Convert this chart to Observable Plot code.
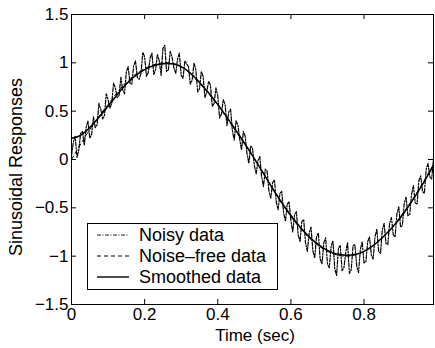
<!DOCTYPE html>
<html>
<head>
<meta charset="utf-8">
<script src="https://cdn.jsdelivr.net/npm/d3@7"></script>
<script src="https://cdn.jsdelivr.net/npm/@observablehq/plot@0.6"></script>
<style>
  html, body { margin: 0; padding: 0; background: #fff; }
  svg { display: block; }
</style>
</head>
<body>
<div id="chart"></div>
<script>
// ---- data ----
const sampleStep = 0.01; // noisy samples at t = 0, 0.01, … 0.99
const noisyValues = [
  0.04, 0.24, 0.10, 0.29, 0.33, 0.22, 0.44, 0.36, 0.52, 0.45,
  0.62, 0.58, 0.74, 0.66, 0.72, 0.91, 0.79, 0.97, 0.85, 0.89,
  1.06, 0.90, 1.10, 0.93, 1.02, 1.15, 0.91, 1.12, 0.95, 1.04,
  0.87, 1.02, 0.96, 0.82, 0.93, 0.73, 0.86, 0.70, 0.77, 0.58,
  0.66, 0.47, 0.57, 0.49, 0.30, 0.40, 0.21, 0.29, 0.06, 0.14,
  -0.06, -0.01, -0.18, -0.10, -0.33, -0.24, -0.44, -0.35, -0.55, -0.46,
  -0.63, -0.57, -0.78, -0.64, -0.86, -0.76, -0.94, -0.80, -1.03, -0.86,
  -1.08, -0.90, -1.13, -0.92, -1.15, -0.96, -1.18, -0.89, -1.10, -0.93,
  -1.07, -0.85, -0.99, -0.80, -0.95, -0.73, -0.87, -0.66, -0.78, -0.56,
  -0.70, -0.45, -0.58, -0.36, -0.45, -0.22, -0.33, -0.10, -0.18, 0.00
];
// noisy samples half-way between (t = 0.005, 0.015, … 0.985)
const noisyMidValues = [
  0.18, 0.02, 0.27, 0.15, 0.40, 0.26, 0.33, 0.58, 0.42, 0.68,
  0.53, 0.79, 0.64, 0.85, 0.68, 0.96, 0.78, 1.02, 0.83, 1.11,
  0.86, 1.05, 0.88, 1.09, 0.87, 1.18, 0.93, 1.06, 0.89, 1.10,
  0.84, 0.99, 0.78, 1.00, 0.70, 0.91, 0.64, 0.81, 0.55, 0.74,
  0.43, 0.62, 0.35, 0.52, 0.20, 0.36, 0.10, 0.24, -0.04, 0.12,
  -0.15, 0.03, -0.28, -0.12, -0.40, -0.21, -0.52, -0.33, -0.64, -0.44,
  -0.75, -0.54, -0.85, -0.62, -0.95, -0.70, -1.02, -0.76, -1.08, -0.81,
  -1.12, -0.84, -1.20, -0.89, -1.12, -0.86, -1.14, -0.88, -1.17, -0.85,
  -1.06, -0.80, -1.03, -0.72, -0.97, -0.66, -0.88, -0.60, -0.80, -0.49,
  -0.68, -0.39, -0.57, -0.27, -0.46, -0.17, -0.35, -0.04, -0.20
];
const cleanTimes  = [0, 0.05, 0.10, 0.15, 0.20, 0.25, 0.30, 0.35, 0.40, 0.45, 0.50,
                     0.55, 0.60, 0.65, 0.70, 0.75, 0.80, 0.85, 0.90, 0.95, 0.99];
const cleanValues = [0, 0.31, 0.57, 0.80, 0.94, 1.00, 0.96, 0.79, 0.56, 0.29, 0.01,
                     -0.30, -0.59, -0.81, -0.95, -1.00, -0.95, -0.81, -0.59, -0.31, -0.05];
const smoothTimes  = [0, 0.02, 0.05, 0.10, 0.15, 0.20, 0.25, 0.30, 0.35, 0.40, 0.45, 0.50,
                      0.55, 0.60, 0.65, 0.70, 0.75, 0.80, 0.85, 0.90, 0.95, 0.99];
const smoothValues = [0.22, 0.24, 0.33, 0.55, 0.78, 0.93, 0.99, 0.96, 0.80, 0.57, 0.30, 0.01,
                      -0.30, -0.58, -0.80, -0.94, -0.99, -0.95, -0.81, -0.60, -0.32, -0.06];
const xTicks = [0, 0.2, 0.4, 0.6, 0.8];
const yTicks = [-1.5, -1, -0.5, 0, 0.5, 1, 1.5];
const legendLabels = ["Noisy data", "Noise\u2013free data", "Smoothed data"];
const xLabel = "Time (sec)";
const yLabel = "Sinusoidal Responses";

// ---- build tables ----
const noisy = [];
noisyValues.forEach((v, i) => {
  noisy.push({t: +(i * sampleStep).toFixed(3), v});
  if (i < noisyMidValues.length) noisy.push({t: +(i * sampleStep + sampleStep / 2).toFixed(3), v: noisyMidValues[i]});
});
const clean  = cleanTimes.map((t, i) => ({t, v: cleanValues[i]}));
const smooth = smoothTimes.map((t, i) => ({t, v: smoothValues[i]}));

const W = 435, H = 348;
const mL = 71, mR = 2, mT = 14, mB = 44;
const innerW = W - mL - mR, innerH = H - mT - mB;
const tk = 5;
const font = "'Liberation Sans', Arial, Helvetica, sans-serif";
const fmt = d => (d < 0 ? "\u2212" : "") + String(Math.abs(d));

const plot = Plot.plot({
  width: W, height: H,
  marginLeft: mL, marginRight: mR, marginTop: mT, marginBottom: mB,
  style: {fontFamily: font, fontSize: "17px", color: "#000", background: "#fff"},
  x: {domain: [0, 0.99]},
  y: {domain: [-1.5, 1.5]},
  marks: [
    Plot.line(noisy, {x: "t", y: "v", stroke: "#000", strokeWidth: 1.2, strokeDasharray: "4,1.5,1.5,1.5"}),
    Plot.line(clean, {x: "t", y: "v", stroke: "#000", strokeWidth: 1, strokeDasharray: "4,3", curve: "natural"}),
    Plot.line(smooth, {x: "t", y: "v", stroke: "#000", strokeWidth: 1.5, curve: "natural"}),
    // inward ticks on all four sides
    Plot.tickX(xTicks, {x: d => d, insetTop: innerH - tk, stroke: "#000"}),
    Plot.tickX(xTicks, {x: d => d, insetBottom: innerH - tk, stroke: "#000"}),
    Plot.tickY(yTicks, {y: d => d, insetRight: innerW - tk, stroke: "#000"}),
    Plot.tickY(yTicks, {y: d => d, insetLeft: innerW - tk, stroke: "#000"}),
    Plot.axisX(xTicks, {tickSize: 0, tickPadding: 3, tickFormat: fmt, label: null, fontSize: 17, fill: "#000"}),
    Plot.axisY(yTicks, {tickSize: 0, tickPadding: 3, tickFormat: fmt, label: null, fontSize: 17, fill: "#000"}),
    Plot.frame({stroke: "#000", strokeWidth: 1})
  ]
});

const svg = d3.select(plot);
// axis titles
svg.append("text").attr("x", mL + innerW / 2 + 3).attr("y", 341)
  .attr("text-anchor", "middle").attr("font-family", font).attr("font-size", 17).attr("fill", "#000")
  .text(xLabel);
svg.append("text").attr("transform", `translate(22,${mT + innerH / 2 + 8}) rotate(-90)`)
  .attr("text-anchor", "middle").attr("font-family", font).attr("font-size", 18).attr("fill", "#000")
  .text(yLabel);

// legend box
const lg = svg.append("g");
lg.append("rect").attr("x", 87.5).attr("y", 223.5).attr("width", 190).attr("height", 66)
  .attr("fill", "#fff").attr("stroke", "#000").attr("stroke-width", 1);
const dashes = ["4,1.5,1,1.5", "4,3", null];
const widths = [0.9, 1, 1.4];
legendLabels.forEach((lab, i) => {
  const y = 235 + i * 21;
  const ln = lg.append("line").attr("x1", 97).attr("x2", 129).attr("y1", y).attr("y2", y)
    .attr("stroke", "#000").attr("stroke-width", widths[i]);
  if (dashes[i]) ln.attr("stroke-dasharray", dashes[i]);
  lg.append("text").attr("x", 139).attr("y", y).attr("dy", "0.36em").attr("text-anchor", "start")
    .attr("font-family", font).attr("font-size", 18).attr("fill", "#000").text(lab);
});

document.getElementById("chart").appendChild(plot);
</script>
</body>
</html>
